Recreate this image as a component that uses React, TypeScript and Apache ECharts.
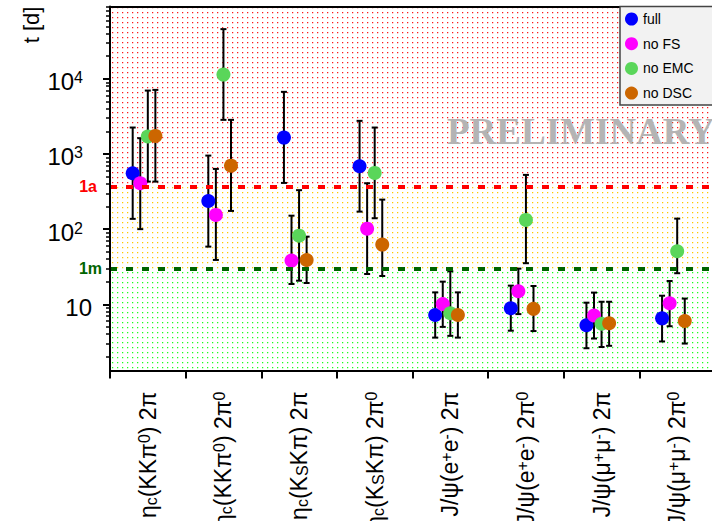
import React, { useEffect, useRef } from 'react';
import * as echarts from 'echarts';

// ---------- data ----------
const categories = [
  'η{sub|c}(KKπ{sup|0}) 2π',
  'η{sub|c}(KKπ{sup|0}) 2π{sup|0}',
  'η{sub|c}(K{sub|S}Kπ) 2π',
  'η{sub|c}(K{sub|S}Kπ) 2π{sup|0}',
  'J/ψ(e{sup|+}e{sup|-}) 2π',
  'J/ψ(e{sup|+}e{sup|-}) 2π{sup|0}',
  'J/ψ(μ{sup|+}μ{sup|-}) 2π',
  'J/ψ(μ{sup|+}μ{sup|-}) 2π{sup|0}',
];

const seriesNames = ['full', 'no FS', 'no EMC', 'no DSC'];

const fullVal = [555, 237, 1652, 688, 7.2, 8.85, 5.25, 6.5];
const fullLo = [137, 58.5, 412, 171, 3.6, 4.45, 2.6, 3.2];
const fullHi = [2249, 952, 6714, 2760, 14.4, 17.7, 10.5, 13.0];

const noFsVal = [408, 154.5, 38.1, 101.5, 10.1, 14.9, 7.1, 10.3];
const noFsLo = [100, 38.9, 18.6, 25.3, 5.0, 7.4, 3.5, 5.1];
const noFsHi = [1623, 633, 151, 408, 20, 29.8, 14.3, 20.4];

const noEmcVal = [1706, 11400, 81.9, 560, 7.6, 132.6, 5.5, 50.8];
const noEmcLo = [429, 2846, 20.6, 139.6, 3.8, 35.2, 2.7, 25.9];
const noEmcHi = [6980, 45900, 330, 2249, 27.5, 527, 10.8, 138];

const noDscVal = [1742, 700, 38.9, 62.2, 7.2, 8.7, 5.6, 6.0];
const noDscLo = [429, 174.7, 19.2, 23.8, 3.6, 4.4, 2.8, 3.0];
const noDscHi = [7127, 2846, 79.4, 247, 14.4, 17.5, 10.8, 11.9];

const yearDays = 365;
const monthDays = 30;
const yMin = 1.314;
const yMax = 91800;
const majorTicks = [10, 100, 1000, 10000];

// ---------- styles ----------
const FONT = '"Liberation Sans", Arial, Helvetica, sans-serif';
const colors = ['#0000ff', '#ff00ff', '#5ad65a', '#cc6600'];
const xOffsets = [-0.2, -0.1, 0, 0.1];

function dotPattern(color: string) {
  const c = document.createElement('canvas');
  c.width = 20;
  c.height = 20;
  const ctx = c.getContext('2d')!;
  ctx.fillStyle = color;
  ctx.fillRect(8, 8, 5, 5);
  return { image: c, repeat: 'repeat', imageWidth: 5, imageHeight: 5 } as any;
}

function buildOption() {
  const vals = [fullVal, noFsVal, noEmcVal, noDscVal];
  const los = [fullLo, noFsLo, noEmcLo, noDscLo];
  const his = [fullHi, noFsHi, noEmcHi, noDscHi];

  const minorVals: number[] = [];
  for (let e = 0; e <= 4; e++) {
    for (let m = 2; m <= 9; m++) {
      const v = m * Math.pow(10, e);
      if (v >= yMin && v <= yMax) minorVals.push(v);
    }
  }

  const series: any[] = [
    {
      type: 'scatter',
      xAxisIndex: 1,
      yAxisIndex: 0,
      data: [],
      z: 1,
      silent: true,
      markArea: {
        silent: true,
        data: [
          [{ yAxis: yearDays, itemStyle: { color: dotPattern('#ff1a1a') } }, { yAxis: yMax }],
          [{ yAxis: monthDays, itemStyle: { color: dotPattern('#ffc800') } }, { yAxis: yearDays }],
          [{ yAxis: yMin, itemStyle: { color: dotPattern('#1aff1a') } }, { yAxis: monthDays }],
        ],
      },
    },
    {
      type: 'scatter',
      xAxisIndex: 1,
      yAxisIndex: 0,
      data: [],
      z: 1.5,
      silent: true,
      markLine: {
        silent: true,
        symbol: ['none', 'none'],
        data: [
          {
            yAxis: yearDays,
            lineStyle: { color: '#ff0000', width: 4, type: [7, 9] },
            label: {
              show: true, position: 'start', formatter: '1a', color: '#ff0000',
              fontWeight: 'bold', fontSize: 16, fontFamily: FONT, distance: 13,
            },
          },
          {
            yAxis: monthDays,
            lineStyle: { color: '#006400', width: 4, type: [7, 9] },
            label: {
              show: true, position: 'start', formatter: '1m', color: '#006400',
              fontWeight: 'bold', fontSize: 16, fontFamily: FONT, distance: 8,
            },
          },
        ],
      },
    },
  ];

  seriesNames.forEach((name, s) => {
    const errData = vals[s].map((_, i) => [i + xOffsets[s], los[s][i], his[s][i]]);
    const ptData = vals[s].map((v, i) => [i + xOffsets[s], v]);
    series.push({
      type: 'custom',
      xAxisIndex: 1,
      yAxisIndex: 0,
      silent: true,
      encode: { x: 0, y: [1, 2] },
      data: errData,
      renderItem: (_p: any, api: any) => {
        const x = api.value(0);
        const lo = api.coord([x, api.value(1)]);
        const hi = api.coord([x, api.value(2)]);
        const st = { stroke: '#000', lineWidth: 2 };
        return {
          type: 'group',
          children: [
            { type: 'line', shape: { x1: lo[0], y1: lo[1], x2: hi[0], y2: hi[1] }, style: st },
            { type: 'line', shape: { x1: lo[0] - 3, y1: lo[1], x2: lo[0] + 3, y2: lo[1] }, style: st },
            { type: 'line', shape: { x1: hi[0] - 3, y1: hi[1], x2: hi[0] + 3, y2: hi[1] }, style: st },
          ],
        };
      },
    });
    series.push({
      type: 'scatter',
      name,
      xAxisIndex: 1,
      yAxisIndex: 0,
      symbol: 'circle',
      symbolSize: 14,
      itemStyle: { color: colors[s], opacity: 1 },
      data: ptData,
    });
  });

  const axisLineStyle = { color: '#000', width: 2 };

  return {
    animation: false,
    textStyle: { fontFamily: FONT },
    grid: { left: 110, top: 6.5, width: 605, height: 364, containLabel: false, outerBoundsMode: 'none' },
    legend: {
      data: seriesNames,
      orient: 'vertical',
      left: 620,
      top: 6.5,
      icon: 'circle',
      itemWidth: 13,
      itemHeight: 14,
      itemGap: 10.7,
      padding: [5.5, 40, 5, 5],
      backgroundColor: '#f2f2f2',
      borderColor: '#444',
      borderWidth: 1.5,
      selectedMode: false,
      textStyle: { fontSize: 14, lineHeight: 14, color: '#000', fontFamily: FONT, padding: [0, 0, 0, 0] },
      z: 10,
    },
    xAxis: [
      {
        type: 'category',
        position: 'bottom',
        data: categories,
        boundaryGap: true,
        z: 5,
        axisLine: { onZero: false, lineStyle: axisLineStyle },
        axisTick: { show: true, length: 8, inside: false, interval: 0, lineStyle: { color: '#000', width: 2 } },
        axisLabel: {
          interval: 0,
          rotate: 90,
          margin: 21,
          color: '#000',
          fontSize: 23,
          fontFamily: FONT,
          hideOverlap: false,
          rich: {
            sub: { fontSize: 16, lineHeight: 10, verticalAlign: 'bottom', fontFamily: FONT, color: '#000' },
            sup: { fontSize: 16, lineHeight: 12, verticalAlign: 'top', fontFamily: FONT, color: '#000' },
          },
        },
        splitLine: { show: false },
      },
      {
        type: 'value',
        position: 'top',
        min: -0.5,
        max: 7.5,
        z: 5,
        axisLine: { show: true, onZero: false, lineStyle: axisLineStyle },
        axisTick: { show: false },
        axisLabel: { show: false },
        splitLine: { show: false },
      },
    ],
    yAxis: [
      {
        type: 'log',
        logBase: 10,
        min: yMin,
        max: yMax,
        position: 'left',
        z: 5,
        axisLine: { show: true, onZero: false, lineStyle: axisLineStyle },
        axisTick: { show: true, length: 7, customValues: majorTicks, lineStyle: { color: '#000', width: 2 } },
        axisLabel: {
          customValues: majorTicks,
          margin: 18,
          padding: [6, 0, 0, 0],
          formatter: (v: number) => {
            const e = Math.round(Math.log10(v));
            if (Math.abs(Math.log10(v) - e) > 1e-6) return '';
            if (e === 1) return '{b|10}';
            return '{b|10}{s|' + e + '}';
          },
          rich: {
            b: { fontSize: 24, lineHeight: 24, fontFamily: FONT, color: '#000' },
            s: { fontSize: 16, lineHeight: 12, verticalAlign: 'top', fontFamily: FONT, color: '#000', padding: [0, 9, 0, 0] },
          },
        },
        splitLine: { show: false },
      },
      {
        type: 'log',
        logBase: 10,
        min: yMin,
        max: yMax,
        position: 'left',
        z: 5,
        axisLine: { show: false, onZero: false },
        axisTick: { show: true, length: 4, customValues: minorVals, lineStyle: { color: '#000', width: 1.5 } },
        axisLabel: { show: false },
        splitLine: { show: false },
      },
    ],
    graphic: [
      {
        type: 'text',
        x: 31,
        y: 25,
        rotation: Math.PI / 2,
        style: { text: 't [d]', fontSize: 22, fontFamily: FONT, fill: '#000', align: 'center', verticalAlign: 'middle' },
      },
      {
        type: 'text',
        x: 447,
        y: 131,
        z: 1.8,
        silent: true,
        style: {
          text: 'PRELIMINARY', fontSize: 37, fontWeight: 'bold',
          fontFamily: '"Liberation Serif", "Times New Roman", serif',
          fill: '#b4b4b4', align: 'left', verticalAlign: 'middle',
        },
      },
    ],
    series,
  };
}

export default function App() {
  const ref = useRef<HTMLDivElement>(null);
  useEffect(() => {
    document.body.style.margin = '0';
    const chart = echarts.init(ref.current!, null, { renderer: 'svg' });
    chart.setOption(buildOption() as any);
    return () => chart.dispose();
  }, []);
  return <div ref={ref} style={{ width: 712, height: 521 }} />;
}
